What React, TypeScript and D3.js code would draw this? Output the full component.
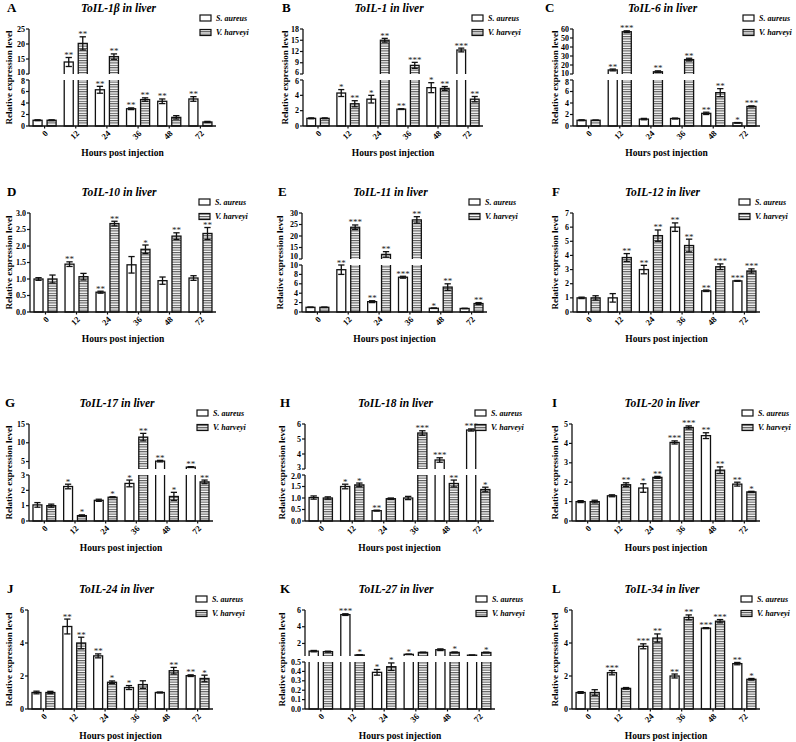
import React from 'react';
import * as d3 from 'd3';

const HOURS = ['0', '12', '24', '36', '48', '72'];
const SERIES = ['S. aureus', 'V. harveyi'];

// A ToIL-1β
const A_SA = [1.0, 14.0, 6.3, 3.0, 4.3, 4.7];
const A_SA_ERR = [0.08, 1.5, 0.6, 0.15, 0.4, 0.4];
const A_VH = [1.0, 20.2, 15.8, 4.6, 1.5, 0.7];
const A_VH_ERR = [0.08, 2.2, 0.9, 0.3, 0.3, 0.1];
const A_SA_SIG = ['', '**', '**', '**', '**', '**'];
const A_VH_SIG = ['', '**', '**', '**', '', ''];
// B ToIL-1
const B_SA = [1.0, 4.3, 3.5, 2.2, 5.0, 12.4];
const B_SA_ERR = [0.06, 0.45, 0.5, 0.05, 0.65, 0.5];
const B_VH = [1.0, 2.9, 15.0, 8.3, 4.9, 3.5];
const B_VH_ERR = [0.06, 0.4, 0.5, 0.8, 0.25, 0.35];
const B_SA_SIG = ['', '*', '*', '**', '*', '***'];
const B_VH_SIG = ['', '**', '**', '***', '**', '**'];
// C ToIL-6
const C_SA = [1.0, 14.5, 1.2, 1.3, 2.2, 0.55];
const C_SA_ERR = [0.08, 1.0, 0.12, 0.08, 0.2, 0.05];
const C_VH = [1.0, 57, 12.5, 26, 5.8, 3.4];
const C_VH_ERR = [0.03, 1.0, 1.0, 1.5, 0.7, 0.1];
const C_SA_SIG = ['', '**', '', '', '**', '*'];
const C_VH_SIG = ['', '***', '**', '**', '**', '***'];
// D ToIL-10
const D_SA = [1.0, 1.45, 0.6, 1.43, 0.95, 1.03];
const D_SA_ERR = [0.04, 0.07, 0.03, 0.25, 0.11, 0.07];
const D_VH = [1.0, 1.07, 2.68, 1.9, 2.3, 2.38];
const D_VH_ERR = [0.12, 0.1, 0.07, 0.13, 0.1, 0.18];
const D_SA_SIG = ['', '**', '**', '', '', ''];
const D_VH_SIG = ['', '', '**', '*', '**', '**'];
// E ToIL-11
const E_SA = [1.0, 9.0, 2.2, 7.4, 0.8, 0.75];
const E_SA_ERR = [0.05, 1.0, 0.2, 0.2, 0.05, 0.05];
const E_VH = [1.0, 23.8, 12.0, 27.0, 5.3, 1.8];
const E_VH_ERR = [0.05, 1.0, 1.2, 1.4, 0.7, 0.2];
const E_SA_SIG = ['', '**', '**', '***', '*', ''];
const E_VH_SIG = ['', '***', '**', '**', '**', '**'];
// F ToIL-12
const F_SA = [1.0, 1.0, 3.0, 6.0, 1.5, 2.2];
const F_SA_ERR = [0.05, 0.3, 0.3, 0.3, 0.05, 0.03];
const F_VH = [1.0, 3.85, 5.4, 4.7, 3.2, 2.9];
const F_VH_ERR = [0.15, 0.28, 0.4, 0.45, 0.2, 0.15];
const F_SA_SIG = ['', '', '**', '**', '**', '***'];
const F_VH_SIG = ['', '**', '**', '**', '***', '***'];
// G ToIL-17
const G_SA = [1.05, 2.25, 1.35, 2.45, 5.1, 3.5];
const G_SA_ERR = [0.15, 0.15, 0.07, 0.22, 0.2, 0.1];
const G_VH = [1.0, 0.35, 1.55, 11.5, 1.6, 2.55];
const G_VH_ERR = [0.1, 0.05, 0.03, 1.0, 0.27, 0.12];
const G_SA_SIG = ['', '*', '', '*', '**', '**'];
const G_VH_SIG = ['', '*', '*', '**', '*', '**'];
// H ToIL-18
const H_SA = [1.02, 1.5, 0.45, 1.0, 3.6, 5.6];
const H_SA_ERR = [0.07, 0.1, 0.02, 0.07, 0.15, 0.07];
const H_VH = [1.0, 1.57, 0.97, 5.4, 1.63, 1.37];
const H_VH_ERR = [0.05, 0.08, 0.03, 0.15, 0.15, 0.1];
const H_SA_SIG = ['', '*', '**', '', '***', '***'];
const H_VH_SIG = ['', '*', '', '***', '**', '*'];
// I ToIL-20
const I_SA = [1.0, 1.3, 1.7, 4.05, 4.4, 1.9];
const I_SA_ERR = [0.05, 0.05, 0.22, 0.08, 0.15, 0.1];
const I_VH = [1.0, 1.87, 2.25, 4.82, 2.62, 1.5];
const I_VH_ERR = [0.07, 0.1, 0.05, 0.08, 0.17, 0.03];
const I_SA_SIG = ['', '', '*', '***', '**', '**'];
const I_VH_SIG = ['', '**', '**', '***', '**', '*'];
// J ToIL-24
const J_SA = [1.0, 5.0, 3.22, 1.3, 1.0, 2.02];
const J_SA_ERR = [0.08, 0.45, 0.12, 0.12, 0.03, 0.05];
const J_VH = [1.0, 4.0, 1.62, 1.48, 2.32, 1.85];
const J_VH_ERR = [0.07, 0.35, 0.08, 0.23, 0.2, 0.2];
const J_SA_SIG = ['', '**', '**', '*', '', '**'];
const J_VH_SIG = ['', '**', '*', '', '**', '*'];
// K ToIL-27
const K_SA = [1.08, 5.45, 0.39, 0.7, 1.25, 0.6];
const K_SA_ERR = [0.08, 0.1, 0.03, 0.03, 0.1, 0.02];
const K_VH = [1.02, 0.62, 0.45, 0.93, 0.93, 0.92];
const K_VH_ERR = [0.06, 0.03, 0.04, 0.03, 0.05, 0.04];
const K_SA_SIG = ['', '***', '*', '*', '', ''];
const K_VH_SIG = ['', '*', '*', '', '*', '*'];
// L ToIL-34
const L_SA = [1.0, 2.2, 3.8, 2.0, 4.9, 2.75];
const L_SA_ERR = [0.05, 0.13, 0.15, 0.12, 0.03, 0.07];
const L_VH = [1.0, 1.25, 4.3, 5.55, 5.32, 1.8];
const L_VH_ERR = [0.17, 0.05, 0.25, 0.15, 0.1, 0.05];
const L_SA_SIG = ['', '***', '***', '**', '***', '**'];
const L_VH_SIG = ['', '', '**', '**', '***', '*'];

const FONT = '"Liberation Serif", "Times New Roman", serif';

type Seg = { domain: [number, number]; ticks: number[]; fmt?: string };
type PanelCfg = {
  letter: string; title: string;
  sa: number[]; saErr: number[]; vh: number[]; vhErr: number[]; saSig: string[]; vhSig: string[];
  x0: number; x1: number; top: number; bottom: number;
  upper?: Seg; lower: Seg;
  letterX: number; ylabX: number; legX: number;
};

const ROWS = [[29, 126], [213, 312], [424, 521], [610, 709]];

const PANELS: PanelCfg[] = [
  { letter: 'A', title: 'ToIL-1β in liver', sa: A_SA, saErr: A_SA_ERR, vh: A_VH, vhErr: A_VH_ERR, saSig: A_SA_SIG, vhSig: A_VH_SIG,
    x0: 29, x1: 216, top: ROWS[0][0], bottom: ROWS[0][1],
    upper: { domain: [10, 25], ticks: [10, 15, 20, 25] }, lower: { domain: [0, 8], ticks: [0, 2, 4, 6, 8] },
    letterX: 7, ylabX: 9, legX: 200 },
  { letter: 'B', title: 'ToIL-1 in liver', sa: B_SA, saErr: B_SA_ERR, vh: B_VH, vhErr: B_VH_ERR, saSig: B_SA_SIG, vhSig: B_VH_SIG,
    x0: 303, x1: 483, top: ROWS[0][0], bottom: ROWS[0][1],
    upper: { domain: [6, 18], ticks: [6, 9, 12, 15, 18] }, lower: { domain: [0, 6], ticks: [0, 2, 4, 6] },
    letterX: 282, ylabX: 285, legX: 472 },
  { letter: 'C', title: 'ToIL-6 in liver', sa: C_SA, saErr: C_SA_ERR, vh: C_VH, vhErr: C_VH_ERR, saSig: C_SA_SIG, vhSig: C_VH_SIG,
    x0: 573, x1: 760, top: ROWS[0][0], bottom: ROWS[0][1],
    upper: { domain: [10, 60], ticks: [10, 20, 30, 40, 50, 60] }, lower: { domain: [0, 8], ticks: [0, 2, 4, 6, 8] },
    letterX: 545, ylabX: 555, legX: 743 },
  { letter: 'D', title: 'ToIL-10 in liver', sa: D_SA, saErr: D_SA_ERR, vh: D_VH, vhErr: D_VH_ERR, saSig: D_SA_SIG, vhSig: D_VH_SIG,
    x0: 30, x1: 216, top: ROWS[1][0], bottom: ROWS[1][1],
    lower: { domain: [0, 3], ticks: [0, 0.5, 1, 1.5, 2, 2.5, 3], fmt: '.1f' },
    letterX: 7, ylabX: 9, legX: 199 },
  { letter: 'E', title: 'ToIL-11 in liver', sa: E_SA, saErr: E_SA_ERR, vh: E_VH, vhErr: E_VH_ERR, saSig: E_SA_SIG, vhSig: E_VH_SIG,
    x0: 302, x1: 487, top: ROWS[1][0], bottom: ROWS[1][1],
    upper: { domain: [10, 30], ticks: [10, 15, 20, 25, 30] }, lower: { domain: [0, 10], ticks: [0, 2, 4, 6, 8, 10] },
    letterX: 278, ylabX: 280, legX: 469 },
  { letter: 'F', title: 'ToIL-12 in liver', sa: F_SA, saErr: F_SA_ERR, vh: F_VH, vhErr: F_VH_ERR, saSig: F_SA_SIG, vhSig: F_VH_SIG,
    x0: 573, x1: 760, top: ROWS[1][0], bottom: ROWS[1][1],
    lower: { domain: [0, 7], ticks: [0, 1, 2, 3, 4, 5, 6, 7] },
    letterX: 552, ylabX: 555, legX: 739 },
  { letter: 'G', title: 'ToIL-17 in liver', sa: G_SA, saErr: G_SA_ERR, vh: G_VH, vhErr: G_VH_ERR, saSig: G_SA_SIG, vhSig: G_VH_SIG,
    x0: 29, x1: 213, top: ROWS[2][0], bottom: ROWS[2][1],
    upper: { domain: [3, 15], ticks: [5, 10, 15] }, lower: { domain: [0, 3], ticks: [0, 1, 2, 3] },
    letterX: 5, ylabX: 9, legX: 197 },
  { letter: 'H', title: 'ToIL-18 in liver', sa: H_SA, saErr: H_SA_ERR, vh: H_VH, vhErr: H_VH_ERR, saSig: H_SA_SIG, vhSig: H_VH_SIG,
    x0: 305, x1: 494, top: ROWS[2][0], bottom: ROWS[2][1],
    upper: { domain: [3, 6], ticks: [3, 4, 5, 6] }, lower: { domain: [0, 2], ticks: [0, 0.5, 1, 1.5, 2], fmt: '.1f' },
    letterX: 280, ylabX: 282, legX: 475 },
  { letter: 'I', title: 'ToIL-20 in liver', sa: I_SA, saErr: I_SA_ERR, vh: I_VH, vhErr: I_VH_ERR, saSig: I_SA_SIG, vhSig: I_VH_SIG,
    x0: 572, x1: 760, top: ROWS[2][0], bottom: ROWS[2][1],
    lower: { domain: [0, 5], ticks: [0, 1, 2, 3, 4, 5] },
    letterX: 552, ylabX: 555, legX: 742 },
  { letter: 'J', title: 'ToIL-24 in liver', sa: J_SA, saErr: J_SA_ERR, vh: J_VH, vhErr: J_VH_ERR, saSig: J_SA_SIG, vhSig: J_VH_SIG,
    x0: 28, x1: 213, top: ROWS[3][0], bottom: ROWS[3][1],
    lower: { domain: [0, 6], ticks: [0, 2, 4, 6] },
    letterX: 7, ylabX: 9, legX: 196 },
  { letter: 'K', title: 'ToIL-27 in liver', sa: K_SA, saErr: K_SA_ERR, vh: K_VH, vhErr: K_VH_ERR, saSig: K_SA_SIG, vhSig: K_VH_SIG,
    x0: 305, x1: 495, top: ROWS[3][0], bottom: ROWS[3][1],
    upper: { domain: [0.5, 6], ticks: [2, 4, 6] }, lower: { domain: [0, 0.5], ticks: [0, 0.1, 0.2, 0.3, 0.4, 0.5], fmt: '.1f' },
    letterX: 280, ylabX: 282, legX: 476 },
  { letter: 'L', title: 'ToIL-34 in liver', sa: L_SA, saErr: L_SA_ERR, vh: L_VH, vhErr: L_VH_ERR, saSig: L_SA_SIG, vhSig: L_VH_SIG,
    x0: 572, x1: 760, top: ROWS[3][0], bottom: ROWS[3][1],
    lower: { domain: [0, 6], ticks: [0, 2, 4, 6] },
    letterX: 552, ylabX: 555, legX: 741 },
];

type SegR = { scale: d3.ScaleLinear<number, number>; top: number; bottom: number; dom: [number, number]; ticks: number[]; fmt?: string; isUpper: boolean };

function Panel({ p, idx }: { p: PanelCfg; idx: number }) {
  const H = p.bottom - p.top;
  const broken = !!p.upper;
  const upperBottom = p.top + Math.round(0.465 * H);
  const lowerTop = broken ? upperBottom + 6 : p.top;
  const segs: SegR[] = [];
  segs.push({ scale: d3.scaleLinear().domain(p.lower.domain).range([p.bottom, lowerTop]), top: lowerTop, bottom: p.bottom, dom: p.lower.domain, ticks: p.lower.ticks, fmt: p.lower.fmt, isUpper: false });
  if (p.upper) segs.push({ scale: d3.scaleLinear().domain(p.upper.domain).range([upperBottom, p.top]), top: p.top, bottom: upperBottom, dom: p.upper.domain, ticks: p.upper.ticks, fmt: p.upper.fmt, isUpper: true });

  // label nudges at the axis break so that the two boundary labels stay apart
  let upShift = 0, lowShift = 0;
  if (broken) {
    const up = segs[1], lo = segs[0];
    const upHasBottom = up.ticks[0] === up.dom[0];
    const loHasTop = lo.ticks[lo.ticks.length - 1] === lo.dom[1];
    if (upHasBottom && loHasTop) {
      const need = 9.4 - (lo.scale(lo.dom[1]) - up.scale(up.dom[0]));
      const upRoom = Math.max(0, up.scale(up.ticks[0]) - up.scale(up.ticks[1]) - 8.8);
      const loRoom = Math.max(0, lo.scale(lo.ticks[lo.ticks.length - 2]) - lo.scale(lo.ticks[lo.ticks.length - 1]) - 8.8);
      let u = Math.min(need / 2, upRoom);
      let l = Math.min(need - u, loRoom);
      u = Math.min(need - l, upRoom);
      upShift = -u; lowShift = l;
    }
  }

  const x = d3.scaleBand().domain(HOURS).range([p.x0, p.x1]);
  const bw = x.bandwidth();
  const barW = 0.29 * bw;
  const off = 0.225 * bw;
  const series = [
    { vals: p.sa, errs: p.saErr, sig: p.saSig, fill: 'white', dx: -off },
    { vals: p.vh, errs: p.vhErr, sig: p.vhSig, fill: 'url(#hstripe)', dx: off },
  ];
  const segOf = (v: number) => (broken && v > p.lower.domain[1] ? segs[1] : segs[0]);
  const cxMid = (p.x0 + p.x1) / 2;
  const midY = (p.top + p.bottom) / 2;
  return (
    <g>
      <defs>
        {segs.map((s, k) => (
          <clipPath id={`clip-${idx}-${k}`} key={k}>
            <rect x={p.x0} y={s.isUpper ? s.top - 30 : s.top} width={p.x1 - p.x0 + 5} height={s.isUpper ? s.bottom - s.top + 30 : s.bottom - s.top + 2} />
          </clipPath>
        ))}
      </defs>
      <text x={p.letterX} y={p.top - 17} fontFamily={FONT} fontWeight="bold" fontSize={13}>{p.letter}</text>
      <text x={cxMid - 4} y={p.top - 17} fontFamily={FONT} fontWeight="bold" fontStyle="italic" fontSize={11.5} textAnchor="middle">{p.title}</text>
      {segs.map((s, k) => (
        <g key={k} clipPath={`url(#clip-${idx}-${k})`}>
          {series.map((sr, si) => sr.vals.map((v, i) => {
            if (s.isUpper && v <= s.dom[0]) return null;
            const yTop = v > s.dom[1] ? s.top - 10 : s.scale(v);
            const yBot = s.isUpper ? s.bottom + 10 : s.bottom;
            const cx = (x(HOURS[i]) as number) + bw / 2 + sr.dx;
            return <rect key={`${si}-${i}`} x={cx - barW / 2} y={yTop} width={barW} height={yBot - yTop} fill={sr.fill} stroke="#111" strokeWidth={1.3} />;
          }))}
        </g>
      ))}
      {series.map((sr, si) => sr.vals.map((v, i) => {
        const s = segOf(v);
        const cx = (x(HOURS[i]) as number) + bw / 2 + sr.dx;
        const e = sr.errs[i];
        const hi = s.scale(v + e);
        const loV = Math.max(v - e, s.dom[0]);
        const lo = s.scale(loV);
        const cw = barW * 0.35;
        return (
          <g key={`e${si}-${i}`} stroke="#111" strokeWidth={1.3}>
            <line x1={cx} x2={cx} y1={lo} y2={hi} />
            <line x1={cx - cw} x2={cx + cw} y1={hi} y2={hi} />
            {v - e > s.dom[0] && <line x1={cx - cw} x2={cx + cw} y1={lo} y2={lo} />}
            {sr.sig[i] && <text x={cx} y={hi + 0.5} stroke="none" fill="#222" fontFamily={FONT} fontSize={9} textAnchor="middle">{sr.sig[i]}</text>}
          </g>
        );
      }))}
      {segs.map((s, k) => (
        <g key={`ax${k}`}>
          <line x1={p.x0} x2={p.x0} y1={s.top} y2={s.bottom} stroke="#111" strokeWidth={1.3} />
          {s.ticks.map(t => {
            let shift = 0;
            if (broken && s.isUpper && t === s.dom[0]) shift = upShift;
            if (broken && !s.isUpper && t === s.dom[1]) shift = lowShift;
            return (
              <g key={t}>
                <line x1={p.x0 - 3} x2={p.x0} y1={s.scale(t)} y2={s.scale(t)} stroke="#111" strokeWidth={1.2} />
                <text x={p.x0 - 4} y={s.scale(t) + shift} dy="0.33em" textAnchor="end" fontFamily={FONT} fontWeight="bold" fontSize={8}>{s.fmt ? d3.format(s.fmt)(t) : String(t)}</text>
              </g>
            );
          })}
        </g>
      ))}
      <line x1={p.x0} x2={p.x1} y1={p.bottom} y2={p.bottom} stroke="#111" strokeWidth={1.3} />
      {HOURS.map(h => {
        const cx = (x(h) as number) + bw / 2;
        return (
          <g key={h}>
            <line x1={cx} x2={cx} y1={p.bottom} y2={p.bottom + 2.5} stroke="#111" strokeWidth={1.2} />
            <text transform={`translate(${cx + 2},${p.bottom + 6}) rotate(-45)`} textAnchor="end" dy="0.33em" fontFamily={FONT} fontWeight="bold" fontSize={8.5}>{h}</text>
          </g>
        );
      })}
      <text x={cxMid} y={p.bottom + 30} textAnchor="middle" fontFamily={FONT} fontWeight="bold" fontSize={9.5}>Hours post injection</text>
      <text transform={`translate(${p.ylabX},${midY}) rotate(-90)`} textAnchor="middle" dy="0.33em" fontFamily={FONT} fontWeight="bold" fontSize={9}>Relative expression level</text>
      {SERIES.map((name, k) => {
        const cy = k === 0 ? p.top - 11 : p.top + 3.5;
        return (
          <g key={name}>
            <rect x={p.legX} y={cy - 3} width={11} height={6} fill={k === 0 ? 'white' : 'url(#hstripe)'} stroke="#111" strokeWidth={1.2} />
            <text x={p.legX + 16} y={cy} dy="0.33em" fontFamily={FONT} fontWeight="bold" fontStyle="italic" fontSize={8}>{name}</text>
          </g>
        );
      })}
    </g>
  );
}

export default function App() {
  return (
    <svg width={796} height={742} style={{ position: 'absolute', left: 0, top: 0, display: 'block', background: 'white' }}>
      <defs>
        <pattern id="hstripe" width={4} height={2.4} patternUnits="userSpaceOnUse">
          <rect width={4} height={2.4} fill="white" />
          <rect width={4} height={1.1} fill="#555" />
        </pattern>
      </defs>
      <rect width={796} height={742} fill="white" />
      {PANELS.map((p, i) => <Panel key={i} p={p} idx={i} />)}
    </svg>
  );
}
